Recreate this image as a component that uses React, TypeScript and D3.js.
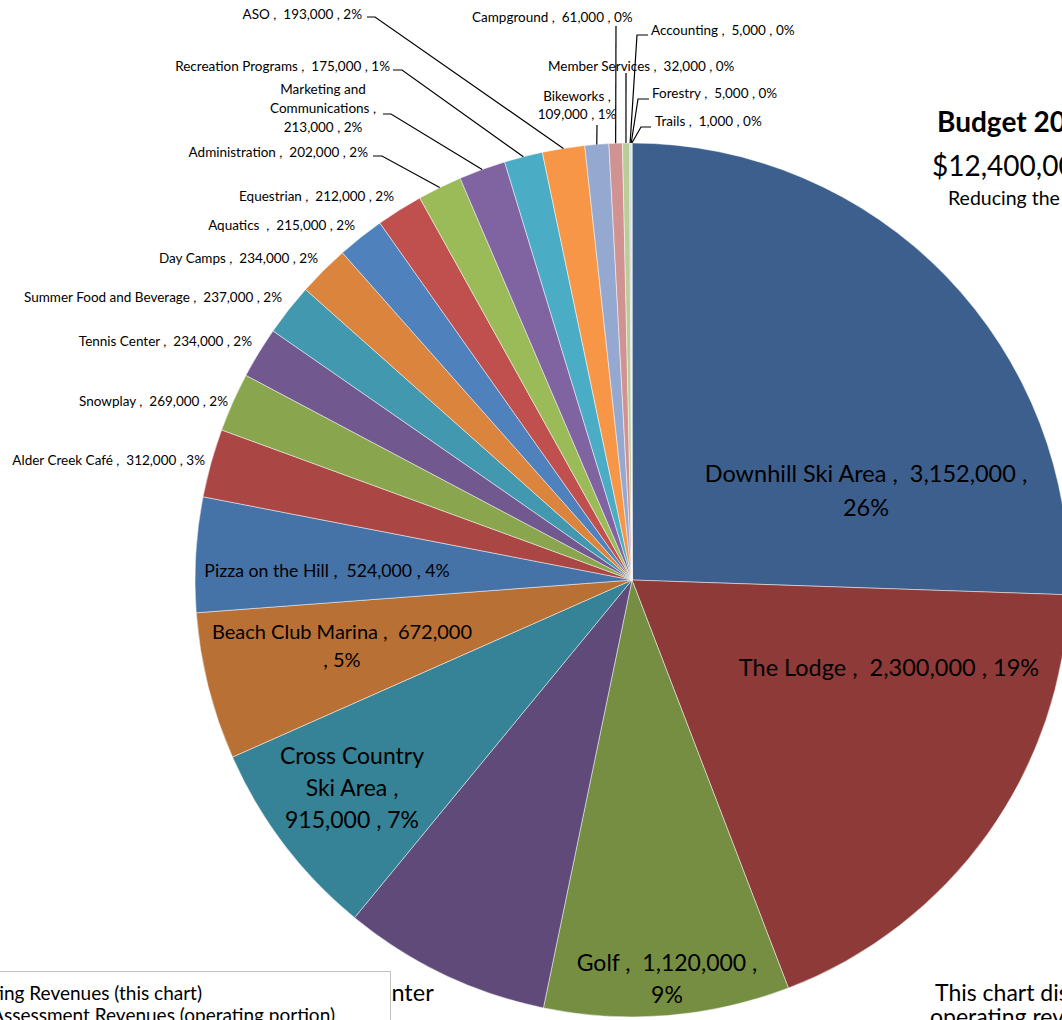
import React from 'react';
import * as d3 from 'd3';

// revenue centres, clockwise from 12 o'clock
const categories = [
  'Downhill Ski Area', 'The Lodge', 'Golf', 'Trout Creek Recreation Center',
  'Cross Country Ski Area', 'Beach Club Marina', 'Pizza on the Hill', 'Alder Creek Café',
  'Snowplay', 'Tennis Center', 'Summer Food and Beverage', 'Day Camps', 'Aquatics',
  'Equestrian', 'Administration', 'Marketing and Communications', 'Recreation Programs',
  'ASO', 'Bikeworks', 'Campground', 'Member Services', 'Accounting', 'Forestry', 'Trails',
];
const revenues = [
  3152000, 2300000, 1120000, 950000, 915000, 672000, 524000, 312000, 269000, 234000,
  237000, 234000, 215000, 212000, 202000, 213000, 175000, 193000, 109000, 61000, 32000,
  5000, 5000, 1000,
];

const sliceColors = [
  '#3c5f8d', '#8e3a38', '#758e42', '#5f4a7a', '#368296', '#b87034', '#4572a7', '#aa4643',
  '#89a54e', '#71588f', '#4198af', '#db843d', '#4f81bd', '#c0504d', '#9bbb59', '#8064a2',
  '#4bacc6', '#f79646', '#95a9d0', '#d09392', '#b9cd96', '#a99bbd', '#92c5d6', '#f9b88a',
];

type Label = {
  x: number;
  y: number;
  size?: number;
  anchor: 'start' | 'middle' | 'end';
  lines: string[];
  lh?: number;
  split?: number;
  leader?: [number, number][];
};

// label placement, same order as categories
const labelLayout: Label[] = [
  { x: 866, y: 482, size: 23.5, anchor: 'middle', lines: ['{n} ,  {v} ,', '{p}'], lh: 34 },
  { x: 889, y: 676, size: 23.5, anchor: 'middle', lines: ['{n} ,  {v} , {p}'] },
  { x: 667, y: 971, size: 23, anchor: 'middle', lines: ['{n} ,  {v} ,', '{p}'], lh: 32 },
  { x: 277, y: 1001, size: 23.5, anchor: 'middle', lines: ['{n}', ', {v} , {p}'], lh: 32 },
  { x: 352, y: 764, size: 23, anchor: 'middle', lines: ['{n0}', '{n1} ,', '{v} , {p}'], lh: 32, split: 2 },
  { x: 342, y: 639, size: 20, anchor: 'middle', lines: ['{n} ,  {v}', ', {p}'], lh: 28 },
  { x: 327, y: 577, size: 17.7, anchor: 'middle', lines: ['{n} ,  {v} , {p}'] },
  { x: 205, y: 465, anchor: 'end', lines: ['{n} ,  {v} , {p}'] },
  { x: 228, y: 406, anchor: 'end', lines: ['{n} ,  {v} , {p}'] },
  { x: 252, y: 346, anchor: 'end', lines: ['{n} ,  {v} , {p}'] },
  { x: 282, y: 302, anchor: 'end', lines: ['{n} ,  {v} , {p}'] },
  { x: 318, y: 263, anchor: 'end', lines: ['{n} ,  {v} , {p}'] },
  { x: 355, y: 230, anchor: 'end', lines: ['{n}  ,  {v} , {p}'] },
  { x: 394, y: 201, anchor: 'end', lines: ['{n} ,  {v} , {p}'] },
  { x: 368, y: 157, anchor: 'end', lines: ['{n} ,  {v} , {p}'], leader: [[373, 156], [382, 156]] },
  { x: 323, y: 94, anchor: 'middle', lines: ['{n0}', '{n1} ,', '{v} , {p}'], lh: 19, split: 2, leader: [[383, 114], [391, 114]] },
  { x: 390, y: 71, anchor: 'end', lines: ['{n} ,  {v} , {p}'], leader: [[393, 70], [402, 70]] },
  { x: 362, y: 19, anchor: 'end', lines: ['{n} ,  {v} , {p}'], leader: [[367, 17], [375, 17]] },
  { x: 577, y: 101, anchor: 'middle', lines: ['{n} ,', '{v} , {p}'], lh: 18, leader: [[597, 125]] },
  { x: 472, y: 22, anchor: 'start', lines: ['{n} ,  {v} , {p}'], leader: [[616, 26]] },
  { x: 548, y: 71, anchor: 'start', lines: ['{n} ,  {v} , {p}'], leader: [[626, 73]] },
  { x: 651, y: 35, anchor: 'start', lines: ['{n} ,  {v} , {p}'], leader: [[648, 35], [637, 35]] },
  { x: 652, y: 98, anchor: 'start', lines: ['{n} ,  {v} , {p}'], leader: [[649, 99], [638, 99]] },
  { x: 655, y: 126, anchor: 'start', lines: ['{n} ,  {v} , {p}'], leader: [[651, 127], [641, 127]] },
];

const width = 1062;
const height = 1020;
const cx = 632;
const cy = 580;
const R = 437;
const font = "Lato, 'Open Sans', sans-serif";

const App: React.FC = () => {
  const total = d3.sum(revenues);
  const fmtVal = d3.format(',');
  const fmtPct = d3.format('.0%');

  const arcs = d3.pie<number>().sort(null).value(d => d)(revenues);
  const arcGen = d3.arc<d3.PieArcDatum<number>>().innerRadius(0).outerRadius(R);

  const edgePoint = (a: d3.PieArcDatum<number>): [number, number] => {
    const m = (a.startAngle + a.endAngle) / 2;
    return [cx + R * Math.sin(m), cy - R * Math.cos(m)];
  };

  const fillText = (tpl: string, i: number, split?: number) => {
    const words = categories[i].split(' ');
    const n0 = split ? words.slice(0, split).join(' ') : categories[i];
    const n1 = split ? words.slice(split).join(' ') : '';
    return tpl
      .replace('{n0}', n0)
      .replace('{n1}', n1)
      .replace('{n}', categories[i])
      .replace('{v}', fmtVal(revenues[i]))
      .replace('{p}', fmtPct(revenues[i] / total));
  };

  return (
    <svg width={width} height={height} style={{ position: 'absolute', left: 0, top: 0, background: '#fff' }}
      fontFamily={font}>
      <g transform={`translate(${cx},${cy})`}>
        {arcs.map((a, i) => (
          <path key={i} d={arcGen(a) || ''} fill={sliceColors[i]}
            stroke="#ffffff" strokeWidth={0.6} strokeOpacity={0.8} />
        ))}
      </g>

      {/* leader lines */}
      {labelLayout.map((l, i) => {
        if (!l.leader) return null;
        const pts = [...l.leader, edgePoint(arcs[i])];
        return (
          <path key={'ld' + i} d={d3.line()(pts) || ''} fill="none" stroke="#000" strokeWidth={1.2} />
        );
      })}

      {/* data labels */}
      {labelLayout.map((l, i) => (
        <text key={'lb' + i} x={l.x} y={l.y} textAnchor={l.anchor} fontSize={l.size || 13.5} fill="#000">
          {l.lines.map((t, j) => (
            <tspan key={j} x={l.x} dy={j === 0 ? 0 : (l.lh || 19)} style={{ whiteSpace: 'pre' }}>
              {fillText(t, i, l.split)}
            </tspan>
          ))}
        </text>
      ))}

      {/* legend box in the lower left */}
      <rect x={-10} y={971.5} width={400.5} height={70} fill="#fff" stroke="#bfbfbf" strokeWidth={1} />
      <text x={202} y={1000} textAnchor="end" fontSize={19} fill="#000">Operating Revenues (this chart)</text>
      <text x={335} y={1022} textAnchor="end" fontSize={19} fill="#000">Annual Assessment Revenues (operating portion)</text>

      {/* title block on the right */}
      <text x={937} y={132} fontSize={28} fontWeight="bold" fill="#000">Budget 2012</text>
      <text x={932} y={176} fontSize={28} fill="#000">$12,400,000</text>
      <text x={948} y={205} fontSize={19.5} fill="#000">Reducing the subsidy</text>
      <text x={935} y={1001} fontSize={23} fill="#000">This chart displays the</text>
      <text x={930} y={1025} fontSize={23} fill="#000">operating revenues</text>
    </svg>
  );
};

export default App;
